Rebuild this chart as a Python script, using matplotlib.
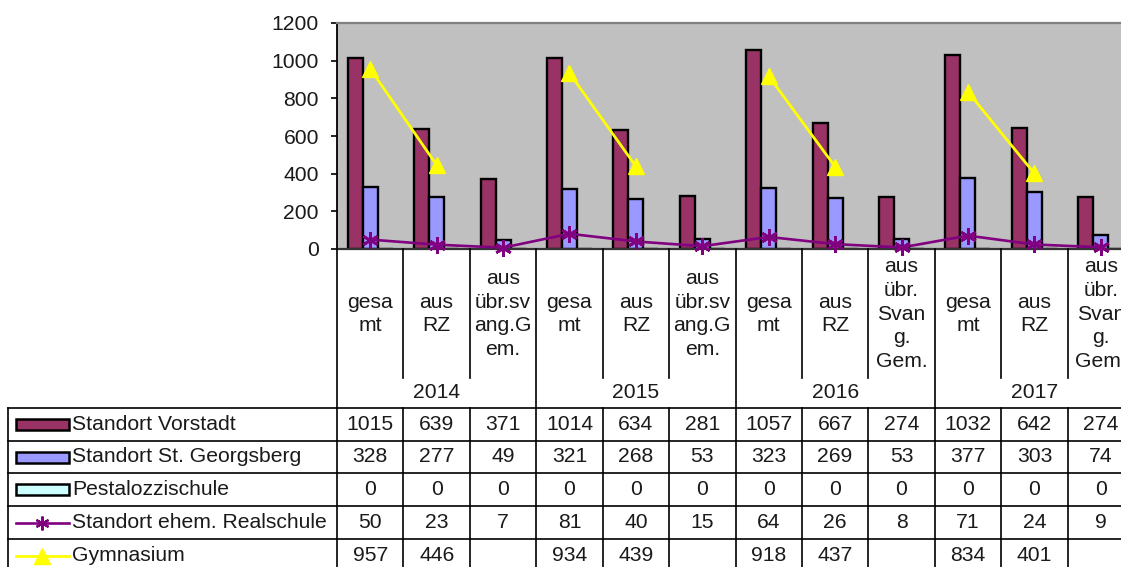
import matplotlib.pyplot as plt
import matplotlib.transforms as mtransforms
from matplotlib.patches import Rectangle
from matplotlib.lines import Line2D
import numpy as np

plt.rcParams['font.family'] = ['Liberation Sans', 'DejaVu Sans']

years = ['2014', '2015', '2016', '2017']
categories = ['gesa\nmt', 'aus\nRZ', 'aus\nübr.sv\nang.G\nem.',
              'gesa\nmt', 'aus\nRZ', 'aus\nübr.sv\nang.G\nem.',
              'gesa\nmt', 'aus\nRZ', 'aus\nübr.\nSvan\ng.\nGem.',
              'gesa\nmt', 'aus\nRZ', 'aus\nübr.\nSvan\ng.\nGem.']
vorstadt = [1015, 639, 371, 1014, 634, 281, 1057, 667, 274, 1032, 642, 274]
georgsberg = [328, 277, 49, 321, 268, 53, 323, 269, 53, 377, 303, 74]
pestalozzi = [0, 0, 0, 0, 0, 0, 0, 0, 0, 0, 0, 0]
realschule = [50, 23, 7, 81, 40, 15, 64, 26, 8, 71, 24, 9]
gymnasium = [957, 446, np.nan, 934, 439, np.nan, 918, 437, np.nan, 834, 401, np.nan]

series_names = ['Standort Vorstadt', 'Standort St. Georgsberg', 'Pestalozzischule',
                'Standort ehem. Realschule', 'Gymnasium']
c_vor, c_geo, c_pes, c_real, c_gym = '#993366', '#9999FF', '#CCFFFF', '#800080', '#FFFF00'
txt = '#1a1a1a'
fs = 15.2

W, H = 1121, 567
fig = plt.figure(figsize=(W / 100, H / 100), dpi=100)

def fy(py):
    return 1 - py / H

def fx(px):
    return px / W

ax = fig.add_axes([fx(337), fy(249), 797 / W, 226 / H])
ax.set_facecolor('#C0C0C0')
x = np.arange(len(categories))
bw = 0.226
ax.bar(x - bw, vorstadt, bw, color=c_vor, edgecolor='black', linewidth=1.7, zorder=2)
ax.bar(x, georgsberg, bw, color=c_geo, edgecolor='black', linewidth=1.7, zorder=2)
ax.bar(x + bw, pestalozzi, bw, color=c_pes, edgecolor='black', linewidth=1.7, zorder=2)
ax.plot(x, realschule, color=c_real, lw=1.9, marker=(6, 2, 0), markersize=12,
        markeredgewidth=2, zorder=3, clip_on=False)
ax.plot(x, gymnasium, color=c_gym, lw=2, marker='^', markersize=11, zorder=3)

ax.set_xlim(-0.5, len(categories) - 0.5)
ax.set_ylim(0, 1200)
ax.set_yticks(range(0, 1201, 200))
ax.tick_params(axis='y', direction='out', length=4, width=1.2, pad=9,
               labelsize=15.2, labelcolor=txt)
ax.set_xticks([])
ax.spines['left'].set_linewidth(1.3)
ax.spines['bottom'].set_linewidth(1.6)
ax.spines['bottom'].set_color('#333333')
ax.spines['top'].set_color('#808080')
ax.spines['top'].set_linewidth(1.6)
ax.spines['right'].set_visible(False)

# header and data table below the plot, columns follow the category axis
tr = mtransforms.blended_transform_factory(ax.transData, fig.transFigure)
lc = dict(color='black', lw=1.2, transform=tr, clip_on=False)
for b in range(len(categories) + 1):
    xb = b - 0.5
    bottom = 408 if b % 3 == 0 else 378
    fig.add_artist(Line2D([xb, xb], [fy(249), fy(bottom)], **lc))
    fig.add_artist(Line2D([xb, xb], [fy(408), fy(H)], **lc))

for i, lab in enumerate(categories):
    fig.text(i, fy(314), lab, transform=tr, ha='center', va='center',
             fontsize=fs, linespacing=1.31, color=txt)
for j, yr in enumerate(years):
    fig.text(3 * j + 1, fy(393), yr, transform=tr, ha='center', va='center',
             fontsize=fs, color=txt)

row_tops = [408, 441, 473, 506, 539, 572]
for yt in row_tops[:-1]:
    fig.add_artist(Line2D([fx(8), fx(W)], [fy(yt), fy(yt)], color='black', lw=1.2))
fig.add_artist(Line2D([fx(8), fx(8)], [fy(408), fy(H)], color='black', lw=1.2))

rows = [vorstadt, georgsberg, pestalozzi, realschule, gymnasium]
for r, vals in enumerate(rows):
    yc = (row_tops[r] + row_tops[r + 1]) / 2
    for i, v in enumerate(vals):
        if not np.isnan(v):
            fig.text(i, fy(yc), str(int(v)), transform=tr, ha='center', va='center',
                     fontsize=fs, color=txt)
    fig.text(fx(72), fy(yc), series_names[r], ha='left', va='center',
             fontsize=fs, color=txt)

# legend keys
for r, col in enumerate([c_vor, c_geo, c_pes]):
    yc = (row_tops[r] + row_tops[r + 1]) / 2
    fig.add_artist(Rectangle((fx(16), fy(yc + 5.5)), fx(53), 11 / H,
                             facecolor=col, edgecolor='black', lw=1.8))
yc = (row_tops[3] + row_tops[4]) / 2
fig.add_artist(Line2D([fx(16), fx(69)], [fy(yc), fy(yc)], color=c_real, lw=1.9))
fig.add_artist(Line2D([fx(42)], [fy(yc)], color=c_real, marker=(6, 2, 0),
                      markersize=10, markeredgewidth=1.6))
yc = (row_tops[4] + row_tops[5]) / 2
fig.add_artist(Line2D([fx(16), fx(69)], [fy(yc), fy(yc)], color=c_gym, lw=2))
fig.add_artist(Line2D([fx(42)], [fy(yc)], color=c_gym, marker='^', markersize=11))

fig.savefig('out.png', dpi=100)
